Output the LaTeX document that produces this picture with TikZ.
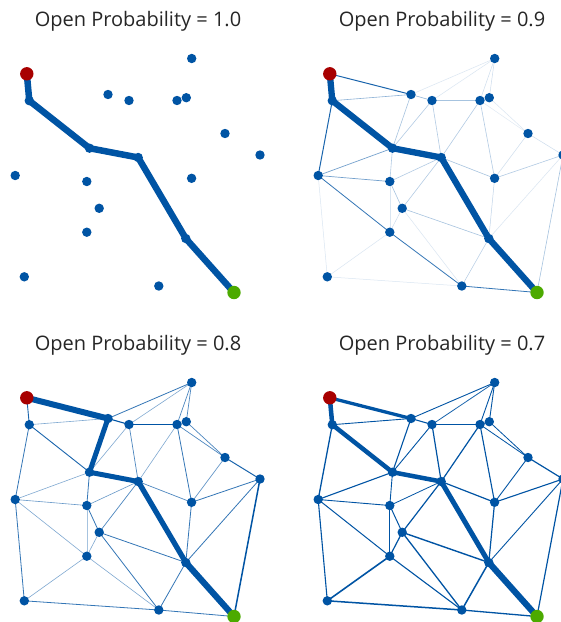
\documentclass[tikz,border=0pt]{standalone}
\usepackage{fontspec}
\setmainfont{Open Sans}
\usetikzlibrary{backgrounds}

\definecolor{netblue}{RGB}{0,84,164}
\definecolor{srcred}{RGB}{168,0,0}
\definecolor{sinkgreen}{RGB}{76,170,0}

\tikzset{
  site/.style={circle, fill=netblue, inner sep=0pt, minimum size=9.4pt},
  source/.style={site, fill=srcred, minimum size=13.4pt},
  sink/.style={site, fill=sinkgreen, minimum size=13.4pt},
  bond/.style={draw=netblue, line cap=round},
  paneltitle/.style={font=\fontsize{20}{24}\selectfont, text=black!85, anchor=base}
}

% the 20 sites of one panel, names prefixed by #1
\newcommand{\placesites}[1]{%
  \foreach \sn/\sx/\sy in {A/29.3/100.7, B/108/94.5, C/129/100.5, D/177/100.5,
      E/186.3/97.7, F/191.7/58.5, G/225/133.5, H/260/155, I/89.5/148.2,
      J/138.2/157.5, K/15.2/175.5, L/86.8/181.5, M/191.6/178.3, N/99.2/208.3,
      O/86.8/232.2, P/185.8/238.5, Q/24.3/276.8, R/158.8/286}
    \node[site] (#1\sn) at (\sx,\sy) {};
  \node[source] (#1S) at (26.8,73.8) {};
  \node[sink] (#1T) at (234,292.5) {};
}
% bonds: from/to/width/opacity
\newcommand{\drawbonds}[2]{%
  \begin{pgfonlayer}{background}
    \foreach \ea/\eb/\ew/\eo in {#2}
      \draw[bond, line width=\ew pt, draw opacity=\eo] (#1\ea.center) -- (#1\eb.center);
  \end{pgfonlayer}
}

\begin{document}
\begin{tikzpicture}[x=1pt, y=-1pt]
  \useasboundingbox (0,0) rectangle (561,622);
  \begin{pgfonlayer}{background}
    \fill[white] (0,0) rectangle (561,622);
  \end{pgfonlayer}

  % p = 1.0
  \begin{scope}
    \placesites{a}
    \drawbonds{a}{S/A/6.5/1, A/I/6.5/1, I/J/6.5/1, J/P/6.5/1, P/T/6.5/1}
    \node[paneltitle] (atitle) at (138,26.7) {Open Probability = 1.0};
  \end{scope}

  % p = 0.9
  \begin{scope}[shift={(303,0)}]
    \placesites{b}
    \drawbonds{b}{S/A/6.3/1, A/I/6.3/1, I/J/6.3/1, J/P/6.3/1, P/T/6.3/1,
      S/B/1.0/0.9, A/B/0.6/0.45, A/K/1.0/0.9, B/C/0.6/0.45, B/F/0.5/0.15,
      B/I/0.6/0.35, C/D/0.6/0.35, C/F/0.5/0.15, C/I/0.6/0.3, C/J/0.6/0.3,
      D/E/0.5/0.3, D/F/0.5/0.2, E/F/0.5/0.2, D/G/0.5/0.12, E/G/0.5/0.15,
      D/J/0.6/0.3, D/M/0.6/0.3, G/M/0.5/0.2, G/H/0.5/0.2, H/M/0.6/0.3,
      H/P/0.5/0.15, H/T/0.6/0.35, I/K/0.7/0.55, I/L/0.6/0.3, J/L/0.6/0.3,
      J/N/0.6/0.3, J/M/0.6/0.35, K/L/0.7/0.55, K/O/0.8/0.8, K/Q/0.5/0.15,
      L/N/0.6/0.35, L/O/0.5/0.15, N/O/0.5/0.2, N/P/0.6/0.35, N/R/0.5/0.15,
      O/Q/0.5/0.15, O/R/0.8/0.8, Q/R/0.5/0.15, P/R/0.5/0.3, R/T/0.8/0.8,
      M/P/0.5/0.25}
    \node[paneltitle] (btitle) at (139,26.7) {Open Probability = 0.9};
  \end{scope}

  % p = 0.8
  \begin{scope}[shift={(0,324)}]
    \placesites{c}
    \drawbonds{c}{S/B/6/1, B/I/5/1, I/J/5/1, J/P/5.3/1, P/T/6.2/1,
      S/A/0.9/0.9, A/B/0.6/0.5, A/I/0.9/0.9, A/K/0.8/0.8, B/C/1.1/1,
      B/F/0.8/0.8, C/F/0.6/0.5, C/D/1.1/1, D/E/0.7/0.7, D/F/0.7/0.7,
      E/F/0.7/0.7, D/G/0.7/0.7, E/G/0.7/0.7, C/I/0.6/0.5, C/J/0.7/0.7,
      D/J/0.6/0.5, D/M/0.8/0.8, G/H/1/0.9, G/M/0.7/0.6, H/M/0.8/0.8,
      H/T/1.5/1, H/P/0.8/0.8, I/K/0.6/0.5, I/L/0.8/0.8, J/L/0.6/0.6,
      J/N/0.7/0.7, J/M/0.7/0.7, K/L/0.6/0.6, K/O/0.6/0.5, K/Q/0.8/0.8,
      L/N/0.8/0.8, L/O/0.5/0.35, N/O/0.6/0.5, N/P/0.8/0.8, N/R/0.8/0.8,
      O/Q/0.6/0.5, O/R/0.6/0.5, Q/R/0.8/0.8, P/R/0.8/0.8, R/T/0.8/0.8,
      M/P/0.8/0.8}
    \node[paneltitle] (ctitle) at (138,26) {Open Probability = 0.8};
  \end{scope}

  % p = 0.7
  \begin{scope}[shift={(303,324)}]
    \placesites{d}
    \drawbonds{d}{S/A/4.5/1, A/I/4.5/1, I/J/4.5/1, J/P/5/1, P/T/6.2/1,
      S/B/3.3/1, A/B/0.9/1, A/K/1.3/1, B/C/1.1/1, B/F/0.9/1, C/F/0.8/0.9,
      C/D/1.1/1, D/E/1/1, D/F/0.9/1, E/F/0.9/1, D/G/0.8/1, E/G/0.8/1,
      B/I/1.1/1, C/I/0.9/1, C/J/1.2/1, D/J/1.2/1, D/M/1.1/1, G/H/1.2/1,
      G/M/0.9/1, H/M/1.1/1, H/T/1.2/1, H/P/0.9/1, I/K/1.1/1, I/L/0.9/1,
      J/L/0.8/1, J/N/1.2/1, J/M/1.2/1, K/L/0.9/1, K/O/1/1, K/Q/1.1/1,
      L/N/1/1, L/O/1/1, N/O/1.2/1, N/P/1.4/1, N/R/1.3/1, O/Q/1.6/1,
      O/R/1.1/1, Q/R/1.5/1, P/R/1.5/1, R/T/1.3/1, M/P/1.2/1}
    \node[paneltitle] (dtitle) at (139,26) {Open Probability = 0.7};
  \end{scope}
\end{tikzpicture}
\end{document}
